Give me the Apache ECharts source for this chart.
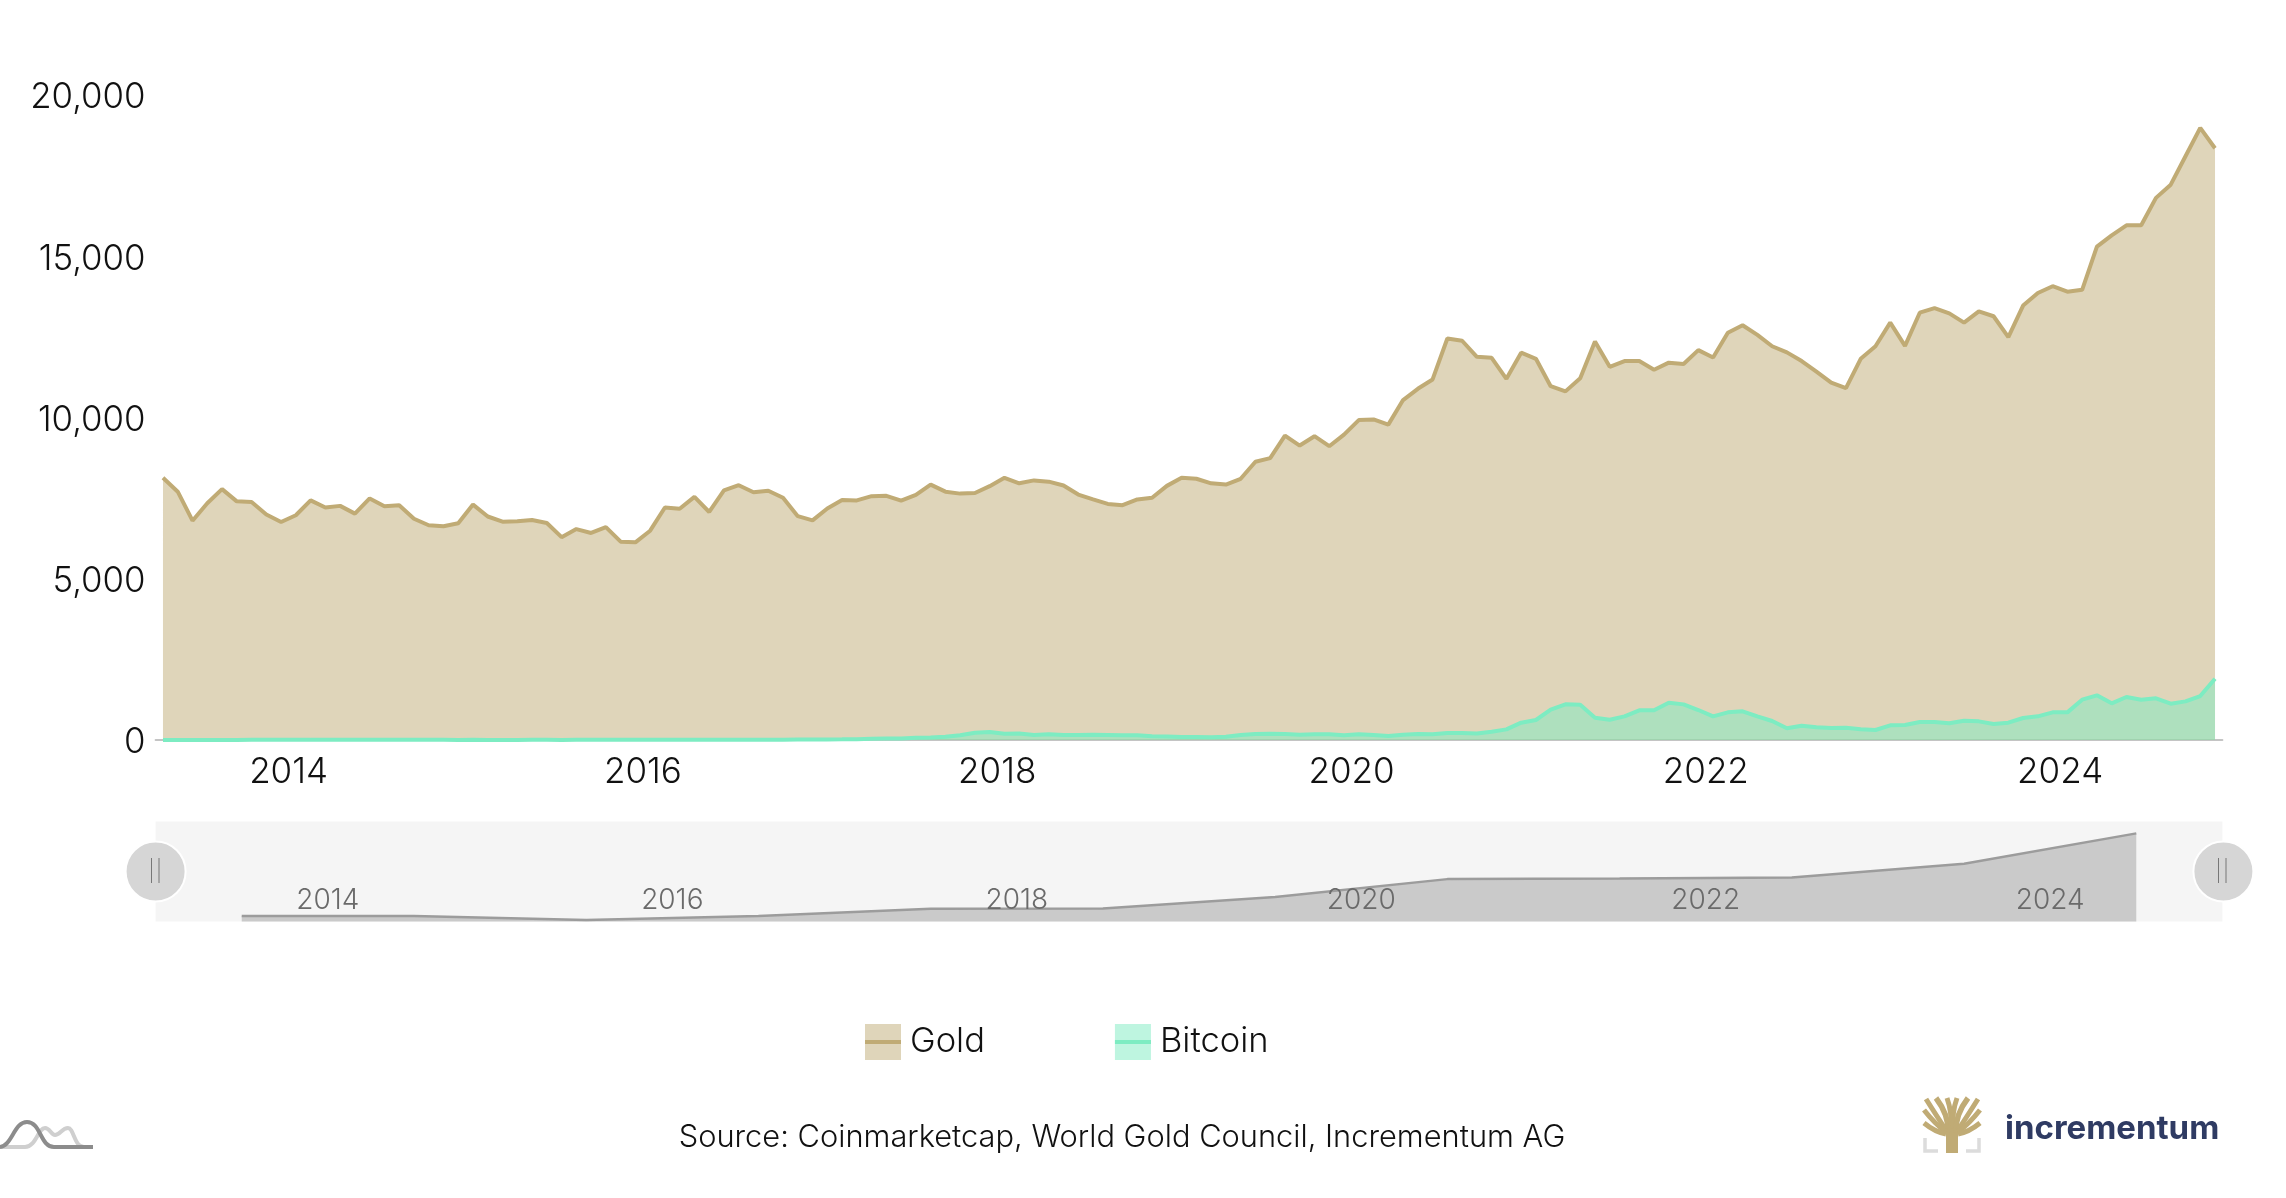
<!DOCTYPE html>
<html>
<head>
<meta charset="utf-8">
<title>Gold vs Bitcoin</title>
<script src="https://cdn.jsdelivr.net/npm/echarts@6/dist/echarts.min.js"></script>
<style>
html, body { margin: 0; padding: 0; background: #fff; }
#main { width: 2286px; height: 1198px; }
</style>
</head>
<body>
<div id="main"></div>
<script>
// monthly, May 2013 - Dec 2024
var startYear = 2013, startMonth = 5, monthCount = 140;
var yTicks = [0, 5000, 10000, 15000, 20000];

var gold = [
    8130, 7700, 6800, 7340, 7780, 7400, 7380, 6990, 6760, 6970,
    7430, 7210, 7260, 7020, 7490, 7250, 7280, 6860, 6660, 6630,
    6720, 7300, 6930, 6770, 6780, 6820, 6730, 6290, 6540, 6420,
    6600, 6150, 6130, 6490, 7210, 7170, 7540, 7070, 7740, 7900,
    7680, 7730, 7510, 6940, 6810, 7180, 7440, 7430, 7560, 7570,
    7420, 7600, 7920, 7700, 7640, 7660, 7870, 8130, 7960, 8050,
    8010, 7890, 7610, 7460, 7320, 7280, 7460, 7510, 7880, 8130,
    8100, 7960, 7920, 8100, 8630, 8740, 9440, 9130, 9420, 9110,
    9470, 9920, 9940, 9780, 10540, 10890, 11180, 12450, 12380, 11880,
    11850, 11200, 12010, 11820, 10970, 10810, 11220, 12360, 11570, 11750,
    11750, 11480, 11700, 11660, 12090, 11860, 12630, 12860, 12560, 12210,
    12020, 11750, 11420, 11080, 10910, 11820, 12210, 12940, 12220, 13250,
    13390, 13230, 12940, 13290, 13140, 12490, 13470, 13860, 14070, 13900,
    13960, 15300, 15650, 15960, 15960, 16810, 17220, 18100, 18980, 18350
];
var bitcoin = [
    2, 1, 1, 2, 2, 2, 11, 9, 10, 7,
    6, 5, 8, 8, 8, 7, 5, 4, 5, 4,
    3, 4, 3, 3, 3, 4, 4, 3, 4, 5,
    5, 7, 6, 7, 6, 7, 8, 10, 10, 9,
    10, 11, 11, 14, 15, 19, 20, 25, 35, 45,
    45, 70, 75, 100, 150, 225, 250, 195, 205, 155,
    175, 155, 155, 165, 155, 145, 145, 115, 105, 95,
    90, 83, 103, 155, 186, 196, 186, 165, 175, 175,
    145, 175, 155, 124, 165, 186, 180, 217, 217, 200,
    258, 330, 537, 620, 940, 1105, 1095, 692, 630, 733,
    920, 920, 1157, 1105, 930, 733, 857, 888, 733, 589,
    362, 444, 393, 372, 382, 330, 310, 455, 465, 558,
    558, 517, 599, 578, 496, 537, 682, 733, 857, 857,
    1250, 1384, 1136, 1333, 1250, 1291, 1126, 1198, 1364, 1900
];

// grey overview in the slider, one point per year
var navYears = [2013.5, 2014.5, 2015.5, 2016.5, 2017.5, 2018.5, 2019.5, 2020.5, 2021.5, 2022.5, 2023.5, 2024.5];
var navValues = [6670, 6670, 6100, 6670, 7720, 7770, 9390, 11960, 12060, 12200, 14160, 18500];

var categories = [];
for (var i = 0; i < monthCount; i++) {
    var m = startMonth - 1 + i;
    var mm = m % 12 + 1;
    categories.push((startYear + Math.floor(m / 12)) + '-' + (mm < 10 ? '0' + mm : mm));
}

var goldColor = '#c0ab75';
var btcColor = '#7decc2';
var fontName = 'Inter';

// small decoration drawn with graphic elements: logos and handle grips
function cubic(p, color, width) {
    return {
        type: 'bezierCurve',
        shape: { x1: p[0], y1: p[1], cpx1: p[2], cpy1: p[3], cpx2: p[4], cpy2: p[5], x2: p[6], y2: p[7] },
        style: { stroke: color, lineWidth: width, fill: 'none' },
        silent: true, z: 10
    };
}
function curve(x1, y1, cx, cy, x2, y2, color, width) {
    return {
        type: 'bezierCurve',
        shape: { x1: x1, y1: y1, x2: x2, y2: y2, cpx1: cx, cpy1: cy },
        style: { stroke: color, lineWidth: width, fill: 'none' },
        silent: true, z: 10
    };
}
function grip(x) {
    return {
        type: 'line',
        shape: { x1: x, y1: 858, x2: x, y2: 883 },
        style: { stroke: '#777', lineWidth: 1 },
        silent: true, z: 200
    };
}
function lineShape(points, color, width) {
    return {
        type: 'polyline',
        shape: { points: points },
        style: { stroke: color, lineWidth: width, fill: 'none' },
        silent: true, z: 10
    };
}

var logoParts = [
    lineShape([[0, 1147], [25, 1147]], '#cfcfcf', 4),
    cubic([25, 1147, 36, 1147, 38, 1128, 45, 1128], '#cfcfcf', 4),
    cubic([45, 1128, 50, 1128, 51, 1135, 55, 1135], '#cfcfcf', 4),
    cubic([55, 1135, 60, 1135, 62, 1128, 68, 1128], '#cfcfcf', 4),
    cubic([68, 1128, 74, 1128, 74, 1147, 84, 1147], '#cfcfcf', 4),
    cubic([0, 1147, 12, 1146, 14, 1122, 27, 1122], '#8c8c8c', 4),
    cubic([27, 1122, 41, 1122, 40, 1147, 54, 1147], '#8c8c8c', 4),
    lineShape([[54, 1147], [93, 1147]], '#8c8c8c', 4),
    // tree
    {
        type: 'polygon',
        shape: { points: [[1946, 1153], [1958, 1153], [1958, 1135], [1964, 1124], [1940, 1124], [1946, 1135]] },
        style: { fill: goldColor },
        silent: true, z: 10
    },
    curve(1948, 1132, 1949, 1115, 1936, 1098, goldColor, 5.5),
    curve(1951, 1128, 1952, 1112, 1947, 1098, goldColor, 5),
    curve(1953, 1128, 1952, 1112, 1957, 1098, goldColor, 5),
    curve(1956, 1132, 1955, 1115, 1968, 1098, goldColor, 5.5),
    curve(1946, 1130, 1938, 1118, 1926, 1099, goldColor, 5),
    curve(1958, 1130, 1966, 1118, 1978, 1099, goldColor, 5),
    curve(1946, 1132, 1935, 1124, 1924, 1110, goldColor, 5),
    curve(1958, 1132, 1969, 1124, 1980, 1110, goldColor, 5),
    curve(1946, 1134, 1935, 1132, 1924, 1123, goldColor, 5),
    curve(1958, 1134, 1969, 1132, 1980, 1123, goldColor, 5),
    lineShape([[1925, 1138], [1925, 1151], [1938, 1151]], '#dcdcdc', 3.5),
    lineShape([[1979, 1138], [1979, 1151], [1966, 1151]], '#dcdcdc', 3.5),
    {
        type: 'text',
        left: 2005,
        top: 1113,
        style: { text: 'incrementum', font: '700 33px Inter', fill: '#2f3b63' },
        silent: true, z: 10
    },
    grip(151.5), grip(159), grip(2218.5), grip(2226)
];

var myChart = echarts.init(document.getElementById('main'));

var option = {
    backgroundColor: '#fff',
    animation: false,
    textStyle: { fontFamily: fontName },
    title: {
        text: 'Source: Coinmarketcap, World Gold Council, Incrementum AG',
        left: 1122,
        top: 1122,
        textAlign: 'center',
        padding: 0,
        textStyle: { fontFamily: fontName, fontSize: 30.8, fontWeight: 300, color: '#111' }
    },
    legend: {
        data: ['Gold', 'Bitcoin'],
        left: 863,
        top: 1024,
        padding: 0,
        itemWidth: 36,
        itemHeight: 45,
        itemGap: 128,
        itemStyle: { opacity: 0.5 },
        lineStyle: { width: 4 },
        selectedMode: false,
        textStyle: { fontFamily: fontName, fontSize: 34.5, fontWeight: 300, color: '#111', padding: [3, 0, 0, 4] }
    },
    grid: [
        { left: 155.6, right: 63.6, top: 95, height: 645 },
        { left: 155.6, right: 63.6, top: 821.5, height: 100, show: true, backgroundColor: '#f5f5f5', borderWidth: 0 }
    ],
    xAxis: [
        {
            type: 'category',
            data: categories,
            boundaryGap: true,
            axisTick: { show: false },
            axisLine: { lineStyle: { color: '#c4c4c4', width: 2 } },
            axisLabel: {
                interval: function (index) { return index % 24 === 8; },
                formatter: function (v) { return v.slice(0, 4); },
                fontFamily: fontName,
                fontSize: 35,
                fontWeight: 300,
                color: '#111',
                margin: 15,
                padding: [0, 0, 0, 15]
            }
        },
        {
            gridIndex: 1,
            type: 'value',
            min: 2013,
            max: 2025,
            interval: 1,
            z: 5,
            splitLine: { show: false },
            axisTick: { show: false },
            axisLine: { show: false },
            axisLabel: {
                inside: true,
                margin: 7,
                fontFamily: fontName,
                fontSize: 28,
                fontWeight: 300,
                color: '#6a6a6a',
                formatter: function (v) { return v % 2 === 0 ? String(v) : ''; }
            }
        }
    ],
    yAxis: [
        {
            type: 'value',
            min: yTicks[0],
            max: yTicks[yTicks.length - 1],
            interval: 5000,
            splitLine: { show: false },
            axisTick: { show: false },
            axisLine: { show: false },
            axisLabel: {
                margin: 10,
                fontFamily: fontName,
                fontSize: 34.8,
                fontWeight: 300,
                color: '#111',
                verticalAlign: 'top',
                lineHeight: 6,
                formatter: function (v) { return v.toLocaleString('en-US'); }
            }
        },
        {
            gridIndex: 1,
            type: 'value',
            min: 5900,
            max: 20200,
            show: false
        }
    ],
    dataZoom: [
        {
            type: 'slider',
            xAxisIndex: 0,
            filterMode: 'none',
            start: 0,
            end: 100,
            left: 152.6,
            right: 63.6,
            top: 821.5,
            height: 100,
            backgroundColor: 'transparent',
            borderColor: 'transparent',
            fillerColor: 'transparent',
            showDataShadow: false,
            showDetail: false,
            brushSelect: false,
            moveHandleSize: 0,
            handleIcon: 'circle',
            handleSize: 60,
            handleStyle: { color: '#d6d6d6', borderColor: '#fff', borderWidth: 2, shadowBlur: 0 }
        }
    ],
    series: [
        {
            name: 'Gold',
            type: 'line',
            data: gold,
            symbol: 'rect',
            showSymbol: false,
            itemStyle: { color: goldColor },
            lineStyle: { color: goldColor, width: 4 },
            areaStyle: { color: goldColor, opacity: 0.5 }
        },
        {
            name: 'Bitcoin',
            type: 'line',
            data: bitcoin,
            symbol: 'rect',
            showSymbol: false,
            itemStyle: { color: btcColor },
            lineStyle: { color: btcColor, width: 4 },
            areaStyle: { color: btcColor, opacity: 0.5 }
        },
        {
            name: 'Overview',
            type: 'line',
            xAxisIndex: 1,
            yAxisIndex: 1,
            data: navYears.map(function (y, k) { return [y, navValues[k]]; }),
            symbol: 'none',
            silent: true,
            lineStyle: { color: '#9c9c9c', width: 2.5 },
            areaStyle: { color: '#cacaca', opacity: 1 }
        }
    ],
    graphic: logoParts
};
myChart.setOption(option);
</script>
</body>
</html>
